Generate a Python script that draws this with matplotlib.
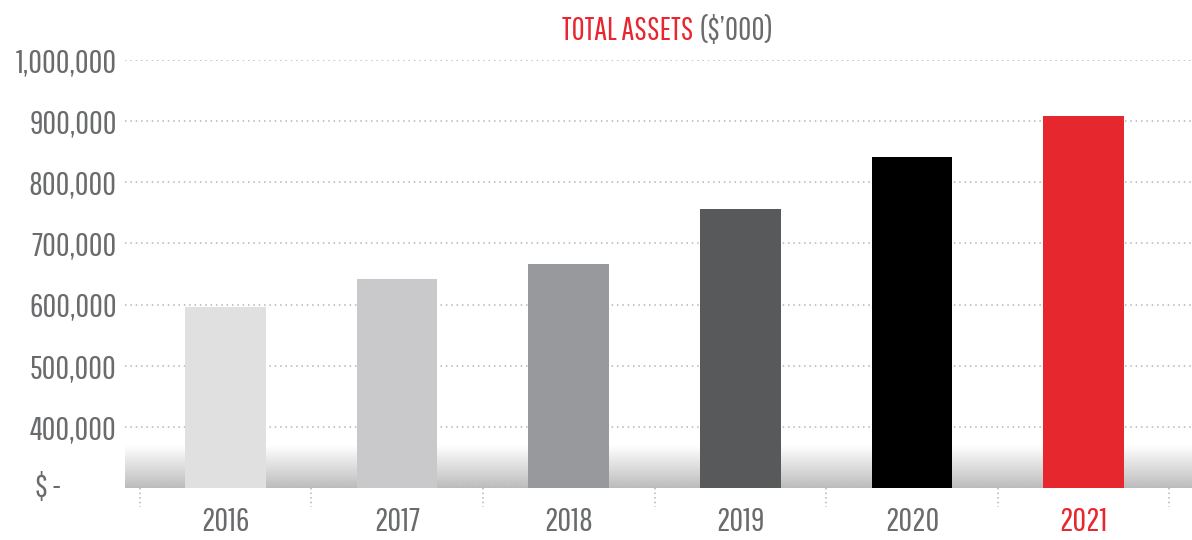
import matplotlib
matplotlib.use("Agg")
import matplotlib.pyplot as plt
import matplotlib.transforms as mtransforms
from matplotlib.colors import LinearSegmentedColormap
import numpy as np

# ── data ──────────────────────────────────────────────────────────────────────
years = ["2016", "2017", "2018", "2019", "2020", "2021"]
total_assets = [596000, 642000, 666000, 756000, 841000, 908000]
bar_colors = ["#e0e0e0", "#c9c9cb", "#98999c", "#58595b", "#000000", "#e6272e"]
y_ticks = [400000, 500000, 600000, 700000, 800000, 900000, 1000000]
y_base = 300000  # axis starts here, labelled "$ -"

TEXT_GREY = "#6a6b6d"
RED = "#e8262f"
GRID = "#b4b4b4"
FS = 24

plt.rcParams["font.family"] = ["Pathway Gothic One", "Abel", "DejaVu Sans"]

fig = plt.figure(figsize=(11.92, 5.40), dpi=100)
ax = fig.add_axes([125 / 1192, 52 / 540, 1 - 125 / 1192, (488 - 60) / 540])

x = np.arange(len(years))
xlim = (-0.586, 5.632)

# soft grey gradient along the bottom
grad = np.linspace(0, 1, 64).reshape(-1, 1)
cmap = LinearSegmentedColormap.from_list("fade", ["#ffffff", "#bdbdbd"])
ax.imshow(grad, extent=[xlim[0], xlim[1], y_base, y_base + 70000],
          aspect="auto", cmap=cmap, zorder=0, origin="upper")

for yv in y_ticks + [y_base]:
    ax.axhline(yv, color=GRID, linestyle=(0, (1, 2.5)), linewidth=1.1, zorder=1)

ax.bar(x, total_assets, width=0.47, color=bar_colors, zorder=2)

ax.set_xlim(*xlim)
ax.set_ylim(y_base, 1000000)

for s in ax.spines.values():
    s.set_visible(False)

ax.set_yticks(y_ticks)
ax.set_yticklabels([f"{v:,}" for v in y_ticks])
ax.tick_params(axis="y", length=0, pad=6, labelsize=FS, labelcolor=TEXT_GREY)

ax.set_xticks(x)
ax.set_xticklabels(years)
ax.tick_params(axis="x", length=0, pad=14, labelsize=FS, labelcolor=TEXT_GREY)
ax.get_xticklabels()[-1].set_color(RED)

# "$ -" for the base line, left aligned
tr = mtransforms.blended_transform_factory(fig.transFigure, ax.transData)
ax.text(35 / 1192, y_base, "$ -", transform=tr, ha="left", va="center",
        fontsize=FS, color=TEXT_GREY)

# dotted separators below the axis
sep = mtransforms.blended_transform_factory(ax.transData, ax.transAxes)
for i in range(len(years) + 1):
    ax.plot([i - 0.5, i - 0.5], [0, -19 / 428], transform=sep, clip_on=False,
            color=GRID, linestyle=(0, (1, 2)), linewidth=1.1)

# title in two colours
fig.text(693 / 1192, 1 - 31 / 540, "TOTAL ASSETS", ha="right", va="center",
         fontsize=23, color=RED)
fig.text(700 / 1192, 1 - 31 / 540, "($’000)", ha="left", va="center",
         fontsize=23, color=TEXT_GREY)

fig.savefig("out.png", dpi=100)
